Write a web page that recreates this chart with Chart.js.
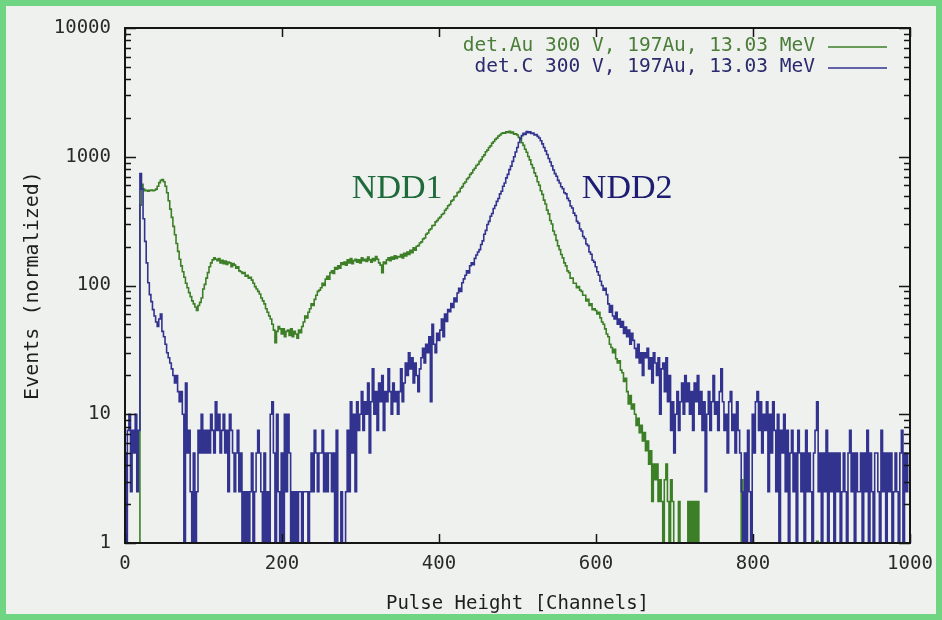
<!DOCTYPE html>
<html>
<head>
<meta charset="utf-8">
<script src="https://cdn.jsdelivr.net/npm/chart.js@4.4.1/dist/chart.umd.min.js"></script>
<style>
  html, body { margin: 0; padding: 0; background: #6fd583; }
  #frame { width: 942px; height: 620px; box-sizing: border-box; border: 6px solid #6fd583; background: #eff1ef; }
  canvas { display: block; }
</style>
</head>
<body>
<div id="frame"><canvas id="spectrum" width="930" height="608"></canvas></div>
<script>
// Pulse height spectra, 2 channels per bin, events normalized
const binWidth = 2;

const seriesLabels = ['det.Au 300 V, 197Au, 13.03 MeV', 'det.C 300 V, 197Au, 13.03 MeV'];
const xTickValues = [0, 200, 400, 600, 800, 1000];
const yTickLabels = ['1', '10', '100', '1000', '10000'];

// det.Au (NDD1)
const auCounts = [
  0, 0, 0, 0, 0, 0, 0, 0, 0, 0, 420, 610, 560, 545, 550, 540, 548, 552, 545, 550, 560, 590, 630, 655, 665,
  640, 590, 525, 455, 392, 338, 288, 248, 212, 184, 160, 142, 128, 116, 104, 96, 88, 82, 76, 72, 68, 64, 70, 74, 80,
  94, 102, 114, 126, 140, 150, 158, 164, 160, 156, 162, 150, 157, 148, 155, 146, 152, 150, 140, 148, 144, 136, 140, 130, 128,
  124, 126, 118, 120, 114, 116, 110, 104, 98, 94, 90, 86, 80, 76, 72, 66, 62, 58, 55, 50, 45, 36, 44, 48, 46,
  42, 46, 40, 44, 45, 41, 46, 40, 44, 42, 39, 45, 43, 48, 52, 58, 56, 62, 66, 72, 70, 78, 84, 90, 92,
  96, 104, 100, 112, 118, 112, 126, 130, 124, 138, 134, 142, 136, 150, 146, 152, 144, 158, 150, 162, 148, 156, 160, 152, 158,
  150, 164, 156, 160, 154, 166, 158, 152, 162, 156, 168, 160, 150, 144, 126, 152, 148, 158, 164, 156, 166, 160, 170, 162, 168,
  167, 174, 164, 178, 170, 182, 174, 188, 180, 196, 188, 202, 204, 214, 218, 230, 234, 250, 256, 270, 276, 292, 294, 312, 320,
  332, 340, 356, 362, 384, 396, 416, 426, 452, 462, 490, 496, 526, 536, 570, 586, 620, 636, 672, 690, 730, 750, 790, 815, 855,
  875, 920, 950, 1000, 1035, 1095, 1125, 1180, 1215, 1275, 1315, 1365, 1395, 1445, 1475, 1515, 1535, 1525, 1560, 1545, 1575, 1530, 1555, 1500, 1510,
  1475, 1415, 1365, 1285, 1225, 1145, 1085, 1005, 945, 870, 820, 750, 705, 640, 600, 545, 510, 460, 430, 385, 360, 320, 300, 265, 248,
  224, 203, 190, 174, 164, 150, 142, 130, 126, 114, 114, 104, 104, 96, 98, 92, 90, 84, 84, 76, 78, 70, 72, 65, 66,
  64, 60, 62, 56, 52, 50, 46, 42, 40, 35, 33, 30, 32, 27, 25, 26, 22, 21, 18, 19, 15, 12, 14, 11, 12,
  10, 8.2, 9.3, 7.2, 8.2, 6.2, 7.2, 5.2, 6.2, 4.1, 5.2, 2.1, 4.1, 3.1, 4.1, 2.1, 3.1, 2.1, 0, 3.1, 4.1, 2.1, 0, 3.1, 2.1,
  0, 0, 0, 2.1, 0, 0, 0, 0, 0, 2.1, 0, 2.1, 0, 2.1, 0, 2.1, 0, 0, 0, 0, 0, 0, 0, 0, 0,
  0, 0, 0, 0, 0, 0, 0, 0, 0, 0, 0, 0, 0, 0, 0, 0, 0, 0, 3.1, 0, 0, 0, 0, 0, 0,
  0, 0, 0, 0, 0, 0, 0, 0, 0, 0, 0, 0, 0, 0, 0, 0, 0, 0, 0, 0, 0, 0, 0, 0, 0,
  0, 0, 0, 0, 0, 0, 0, 0, 0, 0, 0, 0, 0, 0, 0, 0, 1.03, 0, 0, 0, 0, 0, 0, 0, 0,
  0, 0, 0, 0, 0, 0, 0, 0, 0, 0, 0, 0, 0, 0, 0, 0, 0, 0, 0, 0, 0, 0, 0, 0, 0,
  0, 0, 0, 0, 0, 0, 0, 0, 0, 0, 0, 0, 0, 0, 0, 0, 0, 0, 0, 0, 0, 0, 0, 0, 0
];

// det.C (NDD2)
const cCounts = [
  5, 0, 7.5, 10, 2.5, 7.5, 5, 10, 2.5, 7.5, 740, 560, 330, 220, 150, 105, 85, 75, 65, 58, 52, 48, 55, 60, 44,
  40, 35, 30, 27.5, 25, 22.5, 20, 17.5, 20, 15, 12.5, 15, 10, 0, 17.5, 5, 7.5, 2.5, 0, 5, 0, 2.5, 7.5, 5, 10,
  5, 7.5, 5, 7.5, 5, 10, 7.5, 5, 12.5, 7.5, 10, 5, 7.5, 10, 5, 7.5, 2.5, 10, 7.5, 5, 2.5, 5, 7.5, 2.5, 5,
  0, 2.5, 0, 2.5, 0, 2.5, 5, 0, 2.5, 5, 7.5, 5, 2.5, 0, 5, 0, 2.5, 0, 10, 12.5, 5, 0, 10, 2.5, 0,
  5, 0, 10, 2.5, 10, 5, 0, 2.5, 0, 2.5, 0, 2.5, 2.5, 0, 2.5, 2.5, 2.5, 0, 2.5, 5, 2.5, 7.5, 5, 2.5, 5,
  5, 7.5, 2.5, 5, 2.5, 5, 5, 2.5, 5, 0, 7.5, 0, 0, 2.5, 0, 0, 2.5, 7.5, 2.5, 12.5, 5, 10, 2.5, 12.5, 7.5,
  10, 15, 7.5, 12.5, 10, 17.5, 5, 12.5, 22.5, 10, 15, 7.5, 17.5, 12.5, 20, 7.5, 15, 12.5, 22.5, 15, 10, 17.5, 12.5, 15, 10,
  15, 22.5, 12.5, 17.5, 25, 20, 30, 22.5, 27.5, 17.5, 25, 20, 15, 22.5, 27.5, 32.5, 25, 35, 30, 40, 12.5, 50, 35, 30, 42.5,
  37.5, 45, 55, 40, 60, 52.5, 65, 62.5, 72.5, 67.5, 80, 75, 87.5, 95, 90, 105, 112.5, 120, 130, 125, 142.5, 150, 145, 162.5, 172.5,
  182, 190, 208, 222, 250, 268, 298, 315, 345, 362, 396, 418, 450, 474, 515, 540, 590, 625, 685, 730, 795, 845, 920, 1000, 1090,
  1180, 1290, 1390, 1460, 1520, 1490, 1570, 1540, 1560, 1520, 1530, 1480, 1490, 1440, 1400, 1330, 1260, 1180, 1110, 1040, 970, 910, 850, 790, 740,
  705, 655, 625, 585, 565, 525, 515, 475, 455, 415, 400, 365, 350, 315, 305, 275, 265, 240, 232, 210, 204, 182, 175, 157, 152,
  140, 128, 120, 108, 100, 92, 95, 85, 72, 62, 70, 58, 55, 62, 50, 55, 47.5, 52.5, 42.5, 47.5, 40, 45, 35, 42.5, 37.5,
  32.5, 27.5, 35, 25, 30, 20, 30, 27.5, 32.5, 22.5, 27.5, 17.5, 30, 25, 20, 27.5, 10, 22.5, 25, 15, 27.5, 12.5, 20, 7.5, 12.5,
  5, 10, 15, 7.5, 12.5, 17.5, 10, 20, 12.5, 17.5, 10, 15, 7.5, 17.5, 12.5, 20, 10, 15, 7.5, 12.5, 2.5, 10, 15, 7.5, 12.5,
  20, 10, 12.5, 7.5, 15, 22.5, 12.5, 7.5, 10, 5, 12.5, 15, 7.5, 10, 5, 12.5, 7.5, 5, 2.5, 0, 5, 0, 7.5, 2.5, 0,
  10, 5, 12.5, 15, 7.5, 12.5, 5, 10, 7.5, 12.5, 2.5, 10, 5, 12.5, 7.5, 2.5, 10, 0, 7.5, 5, 10, 2.5, 7.5, 0, 5,
  7.5, 2.5, 5, 0, 7.5, 5, 2.5, 5, 0, 7.5, 2.5, 5, 2.5, 0, 5, 7.5, 12.5, 2.5, 5, 0, 5, 2.5, 7.5, 0, 5,
  2.5, 5, 0, 5, 2.5, 5, 0, 2.5, 5, 2.5, 0, 5, 7.5, 2.5, 5, 0, 5, 2.5, 2.5, 5, 0, 5, 2.5, 7.5, 0,
  5, 2.5, 0, 5, 5, 2.5, 0, 7.5, 2.5, 5, 0, 5, 2.5, 5, 0, 2.5, 5, 2.5, 0, 5, 7.5, 0, 5, 2.5, 5
];

const AU_COLOR = '#3c7f26';
const C_COLOR = '#32328f';

// empty bins can't sit on a log axis, push them below the floor so the step drops out of view
const EMPTY_BIN = 0.5;
const channels = auCounts.map((_, i) => i * binWidth);
const toPoints = counts => counts.map((v, i) => ({ x: channels[i], y: v > 0 ? v : EMPTY_BIN }));

const monoFont = 'DejaVu Sans Mono';

// gnuplot style box: frame plus inward ticks on all four sides
const framePlugin = {
  id: 'gpFrame',
  afterDatasetsDraw(chart) {
    const { ctx, chartArea: a, scales: { x, y } } = chart;
    ctx.save();
    ctx.strokeStyle = '#151515';
    ctx.lineWidth = 1.5;
    ctx.beginPath();
    x.ticks.forEach(t => {
      const px = Math.round(x.getPixelForValue(t.value)) + 0.5;
      ctx.moveTo(px, a.bottom); ctx.lineTo(px, a.bottom - 9);
      ctx.moveTo(px, a.top); ctx.lineTo(px, a.top + 9);
    });
    for (let dec = y.min; dec <= y.max; dec *= 10) {
      for (let m = 1; m < 10; m++) {
        const v = dec * m;
        if (v > y.max) break;
        const len = m === 1 ? 11 : 6;
        const py = Math.round(y.getPixelForValue(v)) + 0.5;
        ctx.moveTo(a.left, py); ctx.lineTo(a.left + len, py);
        ctx.moveTo(a.right, py); ctx.lineTo(a.right - len, py);
      }
    }
    ctx.stroke();
    ctx.lineWidth = 2;
    ctx.strokeRect(a.left, a.top, a.right - a.left, a.bottom - a.top);
    ctx.restore();
  }
};

// key in the top right corner: text, then a line sample
const keyPlugin = {
  id: 'gpKey',
  afterDatasetsDraw(chart, args, opts) {
    const { ctx, chartArea: a } = chart;
    ctx.save();
    ctx.font = opts.font;
    ctx.textAlign = 'right';
    ctx.textBaseline = 'middle';
    chart.data.datasets.forEach((ds, i) => {
      const cy = a.top + opts.top + i * opts.rowHeight;
      const lineEnd = a.right - opts.right;
      const lineStart = lineEnd - opts.sample;
      ctx.fillStyle = opts.textColors[i];
      ctx.fillText(ds.label, lineStart - opts.gap, cy);
      ctx.strokeStyle = ds.borderColor;
      ctx.lineWidth = 1.6;
      ctx.beginPath();
      ctx.moveTo(lineStart, cy + 1);
      ctx.lineTo(lineEnd, cy + 1);
      ctx.stroke();
    });
    ctx.restore();
  }
};

// detector names written next to their peaks
const peakNamePlugin = {
  id: 'peakNames',
  afterDatasetsDraw(chart, args, opts) {
    const { ctx, scales: { x, y } } = chart;
    ctx.save();
    ctx.font = opts.font;
    ctx.textAlign = 'left';
    ctx.textBaseline = 'alphabetic';
    opts.items.forEach(it => {
      ctx.fillStyle = it.color;
      ctx.fillText(it.text, x.getPixelForValue(it.channel), y.getPixelForValue(it.level));
    });
    ctx.restore();
  }
};

new Chart(document.getElementById('spectrum'), {
  type: 'line',
  data: {
    datasets: [
      {
        label: seriesLabels[0],
        data: toPoints(auCounts),
        borderColor: AU_COLOR,
        borderWidth: 1.6,
        stepped: 'middle',
        pointRadius: 0,
        fill: false,
        order: 1
      },
      {
        label: seriesLabels[1],
        data: toPoints(cCounts),
        borderColor: C_COLOR,
        borderWidth: 1.6,
        stepped: 'middle',
        pointRadius: 0,
        fill: false,
        order: 0
      }
    ]
  },
  options: {
    responsive: false,
    animation: false,
    devicePixelRatio: 1,
    parsing: false,
    layout: { padding: { top: 22, right: 26, bottom: 0, left: 0 } },
    plugins: {
      legend: { display: false },
      tooltip: { enabled: false },
      gpKey: {
        font: `19.5px "${monoFont}"`,
        textColors: ['#4a7d38', '#2a2a6c'],
        top: 18,
        rowHeight: 21,
        right: 23,
        sample: 59,
        gap: 13
      },
      peakNames: {
        font: '34px "Liberation Serif"',
        items: [
          { text: 'NDD1', channel: 289, level: 480, color: '#1f6a3a' },
          { text: 'NDD2', channel: 582, level: 480, color: '#1d1d72' }
        ]
      }
    },
    scales: {
      x: {
        type: 'linear',
        min: 0,
        max: 1000,
        grid: { display: false, drawTicks: false },
        border: { display: false },
        afterFit: s => { s.height = 71; s.paddingLeft = 0; s.paddingRight = 0; },
        afterBuildTicks: s => { s.ticks = xTickValues.map(v => ({ value: v })); },
        ticks: {
          padding: 10,
          color: '#2a2a2a',
          font: { family: monoFont, size: 19 },
          callback: v => String(v)
        },
        title: {
          display: true,
          text: 'Pulse Height [Channels]',
          color: '#1e1e1e',
          font: { family: monoFont, size: 19 },
          padding: { top: 0, bottom: -1 }
        }
      },
      y: {
        type: 'logarithmic',
        min: 1,
        max: 10000,
        grid: { display: false, drawTicks: false },
        border: { display: false },
        afterFit: s => { s.width = 119; s.paddingTop = 0; s.paddingBottom = 0; },
        ticks: {
          autoSkip: false,
          padding: 14,
          color: '#2a2a2a',
          font: { family: monoFont, size: 19 },
          callback: v => (yTickLabels.includes(String(v)) ? String(v) : '')
        },
        title: {
          display: true,
          text: 'Events (normalized)',
          color: '#1e1e1e',
          font: { family: monoFont, size: 20 },
          padding: { top: 15, bottom: 0 }
        }
      }
    }
  },
  plugins: [framePlugin, keyPlugin, peakNamePlugin]
});
</script>
</body>
</html>
